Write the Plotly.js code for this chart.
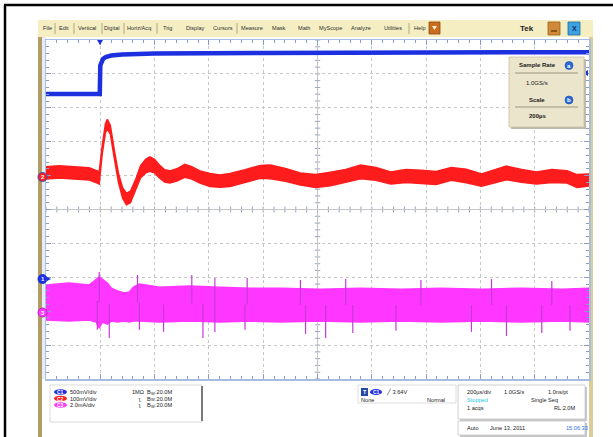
<!DOCTYPE html>
<html><head><meta charset="utf-8">
<script src="https://cdn.plot.ly/plotly-3.0.1.min.js"></script>
<style>html,body{margin:0;padding:0;background:#fff;}#chart{width:613px;height:437px;}</style>
</head><body><div id="chart"></div>
<script>
// Time in µs relative to the trigger, amplitude in screen divisions
const ch1Time  = [-200, -2, 0, 4, 10, 20, 40, 80, 200, 600, 1000, 1400, 1800];
const ch1Level = [3.41, 3.41, 4.25, 4.36, 4.44, 4.50, 4.54, 4.57, 4.60, 4.62, 4.63, 4.64, 4.64];

const ch2Time  = [-200,-152,-96,-41,-11,-4,7,19,26,37,52,67,82,96,111,130,148,167,182,200,219,237,256,282,311,337,367,404,441,478,533,589,626,682,737,793,848,904,959,1015,1070,1126,1182,1237,1293,1348,1404,1459,1496,1552,1607,1663,1719,1756,1800];
const ch2Level = [1.08,1.11,1.08,1.05,0.96,0.93,1.76,2.40,2.52,2.35,1.61,0.93,0.49,0.31,0.37,0.72,1.11,1.28,1.34,1.28,1.11,0.99,0.96,1.02,1.14,1.08,0.96,0.87,0.84,0.87,0.99,1.11,1.11,1.02,0.90,0.84,0.90,0.99,1.11,1.05,0.93,0.99,0.96,0.93,1.05,0.99,0.87,0.99,1.08,0.99,0.93,0.99,0.96,0.84,0.87];
const ch2Spread = [0.18,0.18,0.18,0.18,0.18,0.18,0.12,0.13,0.14,0.13,0.12,0.13,0.15,0.17,0.17,0.16,0.18,0.20,0.21,0.20,0.19,0.18,0.18,0.18,0.19,0.18,0.18,0.19,0.18,0.19,0.18,0.19,0.20,0.19,0.18,0.19,0.20,0.19,0.20,0.19,0.18,0.19,0.20,0.19,0.19,0.20,0.18,0.19,0.20,0.19,0.18,0.19,0.18,0.19,0.18];

const ch3Time  = [-200,-115,-41,-15,-4,7,26,41,63,89,107,122,144,219,330,441,552,663,811,959,1107,1256,1404,1552,1700,1800];
const ch3Upper = [-2.23,-2.17,-2.23,-2.08,-1.99,-2.05,-2.17,-2.32,-2.40,-2.46,-2.43,-2.29,-2.20,-2.29,-2.26,-2.29,-2.32,-2.32,-2.35,-2.32,-2.35,-2.32,-2.35,-2.32,-2.35,-2.32];
const ch3Lower = [-3.26,-3.29,-3.26,-3.32,-3.50,-3.32,-3.38,-3.29,-3.32,-3.29,-3.32,-3.29,-3.29,-3.32,-3.29,-3.32,-3.29,-3.32,-3.29,-3.32,-3.29,-3.32,-3.29,-3.32,-3.29,-3.32];
const ch3SpikeTime = [-11,33,144,233,378,422,533,756,830,930,1089,1367,1496,1626,1730,-4,137,337,422,541,737,904,1181,1441,1663];
const ch3SpikePeak = [-3.55,-3.79,-3.55,-3.61,-3.79,-3.61,-3.55,-3.67,-3.79,-3.64,-3.58,-3.61,-3.73,-3.64,-3.58,-1.84,-1.93,-1.93,-2.02,-2.02,-2.08,-2.05,-2.08,-2.05,-2.11];

const menuItems = ['File','Edit','Vertical','Digital','Horiz/Acq','Trig','Display','Cursors','Measure','Mask','Math','MyScope','Analyze','Utilities','Help'];
const channelScales = ['500mV/div','100mV/div','2.0mA/div'];
const channelColors = ['#1c30e0','#ff1c1c','#ff36ff'];

// ---------- helpers for the scope screen furniture ----------
const W = 613, H = 437;
const px = x => x / W, py = y => 1 - y / H;
const FONT = 'Liberation Sans, Arial, sans-serif';
const shapes = [], ann = [];
function rect(x0,y0,x1,y1,fill,line,lw,layer){shapes.push({type:'rect',xref:'paper',yref:'paper',x0:px(x0),x1:px(x1),y0:py(y1),y1:py(y0),fillcolor:fill,line:{color:line||'rgba(0,0,0,0)',width:lw||(line?1:0)},layer:layer||'above'});}
function ell(x0,y0,x1,y1,fill,line,lw){shapes.push({type:'circle',xref:'paper',yref:'paper',x0:px(x0),x1:px(x1),y0:py(y1),y1:py(y0),fillcolor:fill,line:{color:line||'rgba(0,0,0,0)',width:lw||(line?1:0)},layer:'above'});}
function seg(x0,y0,x1,y1,color,w){shapes.push({type:'line',xref:'paper',yref:'paper',x0:px(x0),x1:px(x1),y0:py(y0),y1:py(y1),line:{color:color,width:w||1},layer:'above'});}
function tri(pts,fill){shapes.push({type:'path',xref:'paper',yref:'paper',path:'M '+pts.map(p=>px(p[0])+','+py(p[1])).join(' L ')+' Z',fillcolor:fill,line:{width:0},layer:'above'});}
function txt(x,y,s,size,color,anchor,bold){ann.push({xref:'paper',yref:'paper',x:px(x),y:py(y),text:bold?'<b>'+s+'</b>':s,showarrow:false,xanchor:anchor||'left',yanchor:'middle',borderpad:0,font:{family:FONT,size:size||6,color:color||'#222'}});}

// outer page frame
seg(4,5,613,5,'#000',2.5); seg(5,5,5,437,'#000',2.5);
// screenshot base
rect(38,20,593,437,'#ffffff',null,0,'below');
rect(38,20,593,37,'#f4eec2',null,0,'below');
rect(38,37,42,437,'#b29c66',null,0,'below');
rect(589,37,593,437,'#dacd98',null,0,'below');
rect(42,37,46,379,'#e6ecf8',null,0,'below');

// menu bar
const menuX = [48,64,87,112,139,167,195,223,252,279,304,330,361,393,420];
menuItems.forEach((m,i)=>txt(menuX[i],28.5,m,5.6,'#303030','center'));
[55,74,102,124,157,237,409].forEach(x=>seg(x,23,x,34,'#a09870',0.8));
rect(429,22,440,34,'#c86c1e','#8a4a10',0.8);
tri([[432,26],[437,26],[434.5,30]],'#fff0d0');
txt(527,28.5,'Tek',8,'#202020','center',true);
rect(548,22,560,35,'#d08a3a','#9a6020',0.8);
seg(551,31,557,31,'#5a3010',1.2);
rect(568,22,580,35,'#3ea2e2','#1a6aa0',0.8);
txt(574,28.5,'X',7,'#103060','center',true);

// graticule centre lines with minor ticks
shapes.push({type:'line',xref:'x',yref:'y',x0:800,x1:800,y0:-5,y1:5,line:{color:'#c4c4c4',width:1},layer:'below'});
for(let k=0;k<=50;k++){const t=-200+40*k;shapes.push({type:'line',xref:'x',yref:'y',x0:t,x1:t,y0:-0.09,y1:0.09,line:{color:'#9aa6bf',width:1},layer:'below'});}
for(let k=0;k<=50;k++){const v=-5+0.2*k;shapes.push({type:'line',xref:'x',yref:'y',x0:790,x1:810,y0:v,y1:v,line:{color:'#9aa6bf',width:1},layer:'below'});}

// trigger position / level markers
tri([[97,40],[103,40],[100,45]],'#1c30e0');
tri([[583,73],[588,70],[588,76]],'#1c30e0');

// channel reference markers
ell(38,172.5,47,181.5,'#ff1c1c','#3050c0',1); txt(42.5,177,'2',6,'#fff','center',true);
ell(38,274.5,47,283.5,'#1c30e0','#1c30e0',1); txt(42.5,279,'1',6,'#fff','center',true);
tri([[47,277],[51,279],[47,281]],'#1c30e0');
ell(38,308,47,317,'#ff36ff','#c020c0',1); txt(42.5,312.5,'3',6,'#fff','center',true);

// sample-rate / scale box
rect(511,59,586,129,'#bdbab0',null,0);
rect(509,57,584,127,'#ebe5cb','#c9c1a2',0.8);
txt(537,65,'Sample Rate',6,'#202020','center',true);
ell(565,61.5,573,69.5,'#2c6ad8','#1a4aa0',0.6); txt(569,65.5,'a',6,'#fff','center',true);
seg(515,73,578,73,'#8a8470',0.8);
txt(537,83,'1.0GS/s',6,'#202020','center');
txt(537,99.5,'Scale',6,'#202020','center',true);
ell(565,96,573,104,'#2c6ad8','#1a4aa0',0.6); txt(569,100,'b',6,'#fff','center',true);
seg(515,107,578,107,'#8a8470',0.8);
txt(537,116,'200µs',6,'#202020','center',true);

// bottom readout: channels
rect(50,385,202,422,'#ffffff','#cfcfcf',0.8);
seg(202,386,202,421,'#303030',1.2);
const rowY=[392,398.5,405];
rowY.forEach((y,i)=>{
  ell(54,y-2.8,67,y+2.8,channelColors[i],null,0);
  txt(60.5,y,'C'+(i+1),5,'#fff','center',true);
  txt(69,y,channelScales[i],5.6,'#222');
  txt(i===0?131:137,y,i===0?'1MΩ':'ʅ',5.6,'#222');
  txt(146,y,'B',5.6,'#222');
  txt(150,y+1.2,'W',4,'#222');
  txt(154,y,':20.0M',5.6,'#222');
});

// trigger readout
rect(358,385,456,403,'#ffffff','#d6d6d6',0.8);
rect(361,388,368,396,'#2848a8',null,0); txt(364.5,392,'T',5.5,'#fff','center',true);
ell(370,389,382,395,'#1c30e0',null,0); txt(376,392,'C1',5,'#fff','center',true);
txt(385,392,'╱ 3.64V',5.6,'#222');
txt(360,399.5,'None',5.6,'#222');
txt(426,399.5,'Normal',5.6,'#222');

// acquisition readout
rect(460,387,587,421,'#c8c8c8',null,0);
rect(458,385,585,419,'#ffffff','#c4c4c4',0.8);
txt(466,392,'200µs/div',5.6,'#222'); txt(503,392,'1.0GS/s',5.6,'#222'); txt(547,392,'1.0ns/pt',5.6,'#222');
txt(466,399.5,'Stopped',5.6,'#22c8e8'); txt(530,399.5,'Single Seq',5.6,'#222');
txt(466,408,'1 acqs',5.6,'#222'); txt(553,408,'RL:2.0M',5.6,'#222');
rect(460,423,587,437,'#c8c8c8',null,0);
rect(458,421,585,435,'#ffffff','#c4c4c4',0.8);
txt(466,428,'Auto',5.6,'#222'); txt(489,428,'June 13, 2011',5.6,'#222'); txt(565,428,'15:06:33',5.6,'#2a70e0');

// ---------- traces ----------
const ch2Hi = ch2Level.map((v,i)=>v+ch2Spread[i]);
const ch2Lo = ch2Level.map((v,i)=>v-ch2Spread[i]);
const spikeX=[], spikeY=[];
ch3SpikeTime.forEach((t,i)=>{
  let j=0; ch3Time.forEach((tt,k)=>{ if(Math.abs(tt-t)<Math.abs(ch3Time[j]-t)) j=k; });
  const mid=(ch3Upper[j]+ch3Lower[j])/2;
  spikeX.push(t,t,null); spikeY.push(mid,ch3SpikePeak[i],null);
});

const traces = [
  {x:ch3Time,y:ch3Lower,mode:'lines',line:{color:channelColors[2],width:1.5},hoverinfo:'skip'},
  {x:ch3Time,y:ch3Upper,mode:'lines',fill:'tonexty',fillcolor:channelColors[2],line:{color:channelColors[2],width:1.5},hoverinfo:'skip'},
  {x:spikeX,y:spikeY,mode:'lines',line:{color:'#c43ad6',width:1.2},hoverinfo:'skip',connectgaps:false},
  {x:ch2Time,y:ch2Lo,mode:'lines',line:{color:channelColors[1],width:1.5},hoverinfo:'skip'},
  {x:ch2Time,y:ch2Hi,mode:'lines',fill:'tonexty',fillcolor:channelColors[1],line:{color:channelColors[1],width:1.5},hoverinfo:'skip'},
  {x:ch1Time,y:ch1Level,mode:'lines',line:{color:channelColors[0],width:4.5},hoverinfo:'skip'}
];

const axisCommon = {showticklabels:false,showgrid:true,gridcolor:'#c6c6c6',griddash:'dot',gridwidth:1,
  showline:true,linecolor:'#a9bde0',linewidth:1.5,mirror:'ticks',ticks:'inside',ticklen:5,tickcolor:'#8a9cc0',tickwidth:1,fixedrange:true};
const layout = {
  width:W,height:H,margin:{l:0,r:0,t:0,b:0},paper_bgcolor:'#ffffff',plot_bgcolor:'#ffffff',
  showlegend:false,hovermode:false,
  xaxis:Object.assign({},axisCommon,{domain:[px(46),px(589)],range:[-200,1800],tick0:0,dtick:200,zeroline:false,
    minor:{dtick:40,ticks:'inside',ticklen:3,tickcolor:'#8a9cc0',showgrid:false}}),
  yaxis:Object.assign({},axisCommon,{domain:[py(379),py(40)],range:[-5,5],tick0:0,dtick:1,zeroline:true,zerolinecolor:'#c4c4c4',zerolinewidth:1,
    minor:{dtick:0.2,ticks:'inside',ticklen:3,tickcolor:'#8a9cc0',showgrid:false}}),
  shapes:shapes,annotations:ann
};
Plotly.newPlot('chart',traces,layout,{staticPlot:true,displayModeBar:false});
</script></body></html>
